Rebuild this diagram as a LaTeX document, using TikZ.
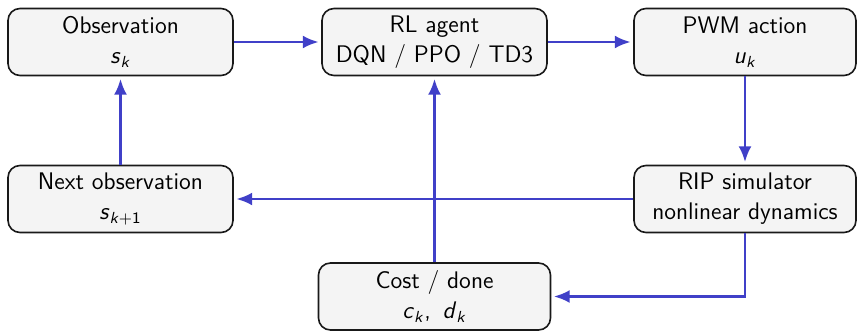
\documentclass[tikz,border=0pt]{standalone}
\usetikzlibrary{arrows.meta}
\definecolor{flowblue}{RGB}{64,64,200}
\definecolor{boxfill}{RGB}{244,244,244}
\newcommand{\svar}[2]{\textit{#1}\textsubscript{\textit{#2}}}
\begin{document}
\begin{tikzpicture}[x=0.5pt,y=-0.5pt,
  blockbox/.style={draw=black!90,line width=0.8pt,fill=boxfill,rounded corners=6pt,
    align=center,inner sep=0pt,minimum height=33.5pt,font=\sffamily\fontsize{12}{15}\selectfont},
  flow/.style={draw=flowblue,line width=1.4pt,-{Latex[length=8pt,width=6.5pt]},shorten >=1.2pt}]
\useasboundingbox (0,0) rectangle (857,332);
\node[blockbox,minimum width=112.5pt] (obs) at (120.5,42) {Observation\\\svar{s}{k}};
\node[blockbox,minimum width=112.5pt] (agent) at (434.5,42) {RL agent\\DQN / PPO / TD3};
\node[blockbox,minimum width=111pt] (pwm) at (745,42) {PWM action\\\svar{u}{k}};
\node[blockbox,minimum width=112.5pt] (next) at (120.5,199) {Next observation\\\textit{s}\textsubscript{\textit{k}+1}};
\node[blockbox,minimum width=111pt] (rip) at (745,199) {RIP simulator\\nonlinear dynamics};
\node[blockbox,minimum width=116pt] (cost) at (434.5,296.5) {Cost / done\\\svar{c}{k},\, \svar{d}{k}};
\draw[flow] (obs.east) -- (agent.west);
\draw[flow] (agent.east) -- (pwm.west);
\draw[flow] (pwm.south) -- (rip.north);
\draw[flow] (rip.west) -- (next.east);
\draw[flow] (next.north) -- (obs.south);
\draw[flow] (rip.south) |- (cost.east);
\draw[flow] (cost.north) -- (agent.south);
\end{tikzpicture}
\end{document}
